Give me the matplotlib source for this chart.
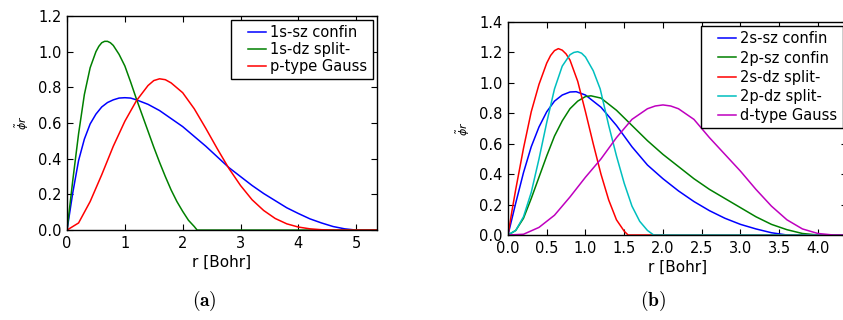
"""Radial basis functions: confined / split / Gaussian orbitals (two panels)."""

import numpy as np
import matplotlib

matplotlib.use("Agg")
import matplotlib.pyplot as plt
from matplotlib.legend_handler import HandlerLine2D
from matplotlib.lines import Line2D

# ---- panel (a): values ----
r_a_blue = [0, 0.1, 0.2, 0.3, 0.4, 0.5, 0.6, 0.7, 0.8, 0.9, 1.0, 1.1, 1.2, 1.4, 1.6,
            1.8, 2.0, 2.2, 2.4, 2.6, 2.8, 3.0, 3.2, 3.4, 3.6, 3.8, 4.0, 4.2, 4.4,
            4.6, 4.8, 5.0, 5.36]
phi_1s_sz = [0, 0.21, 0.39, 0.51, 0.595, 0.65, 0.69, 0.715, 0.73, 0.74, 0.742, 0.74,
             0.73, 0.705, 0.67, 0.625, 0.58, 0.525, 0.47, 0.41, 0.35, 0.30, 0.25,
             0.205, 0.165, 0.125, 0.093, 0.063, 0.04, 0.02, 0.007, 0.0, 0.0]

r_a_green = [0, 0.05, 0.1, 0.2, 0.3, 0.4, 0.5, 0.55, 0.6, 0.65, 0.7, 0.75, 0.8, 0.9,
             1.0, 1.1, 1.2, 1.3, 1.4, 1.5, 1.6, 1.7, 1.8, 1.9, 2.0, 2.1, 2.2, 2.25,
             5.36]
phi_1s_dz = [0, 0.14, 0.28, 0.54, 0.76, 0.91, 1.0, 1.03, 1.05, 1.058, 1.058, 1.05,
             1.035, 0.985, 0.92, 0.83, 0.735, 0.645, 0.555, 0.465, 0.38, 0.3, 0.225,
             0.16, 0.105, 0.055, 0.02, 0.0, 0.0]

r_a_red = [0, 0.2, 0.4, 0.6, 0.8, 1.0, 1.2, 1.4, 1.5, 1.6, 1.7, 1.8, 2.0, 2.2, 2.4,
           2.6, 2.8, 3.0, 3.2, 3.4, 3.6, 3.8, 4.0, 4.2, 4.4, 4.6, 5.36]
phi_p_gauss = [0, 0.04, 0.16, 0.31, 0.47, 0.61, 0.725, 0.81, 0.838, 0.848, 0.843,
               0.825, 0.77, 0.68, 0.57, 0.455, 0.345, 0.25, 0.17, 0.11, 0.065, 0.035,
               0.017, 0.007, 0.002, 0.0, 0.0]

# ---- panel (b) ----
r_b_blue = [0, 0.1, 0.2, 0.3, 0.4, 0.5, 0.6, 0.7, 0.8, 0.88, 1.0, 1.2, 1.4, 1.6, 1.8,
            2.0, 2.2, 2.4, 2.6, 2.8, 3.0, 3.2, 3.4, 3.6, 4.4]
phi_2s_sz = [0, 0.21, 0.41, 0.58, 0.71, 0.81, 0.88, 0.92, 0.94, 0.942, 0.92, 0.84,
             0.72, 0.58, 0.46, 0.37, 0.29, 0.22, 0.16, 0.11, 0.07, 0.04, 0.015, 0.0, 0.0]

r_b_green = [0, 0.1, 0.2, 0.3, 0.4, 0.5, 0.6, 0.7, 0.8, 0.9, 1.0, 1.07, 1.2, 1.4, 1.6,
             1.8, 2.0, 2.2, 2.4, 2.6, 2.8, 3.0, 3.2, 3.4, 3.6, 3.8, 4.0, 4.4]
phi_2p_sz = [0, 0.03, 0.11, 0.24, 0.38, 0.52, 0.65, 0.75, 0.83, 0.88, 0.91, 0.915,
             0.9, 0.82, 0.72, 0.62, 0.53, 0.45, 0.37, 0.3, 0.24, 0.18, 0.12, 0.07,
             0.035, 0.01, 0.0, 0.0]

r_b_red = [0, 0.05, 0.1, 0.2, 0.3, 0.4, 0.5, 0.55, 0.6, 0.65, 0.7, 0.75, 0.8, 0.9,
           1.0, 1.1, 1.2, 1.3, 1.4, 1.5, 1.55, 4.4]
phi_2s_dz = [0, 0.155, 0.3, 0.57, 0.81, 0.99, 1.13, 1.18, 1.212, 1.225, 1.215, 1.19,
             1.15, 1.01, 0.81, 0.6, 0.4, 0.23, 0.1, 0.025, 0.0, 0.0]

r_b_cyan = [0, 0.1, 0.2, 0.3, 0.4, 0.5, 0.6, 0.7, 0.8, 0.85, 0.9, 0.95, 1.0, 1.1,
            1.19, 1.25, 1.3, 1.35, 1.4, 1.5, 1.6, 1.7, 1.8, 1.88, 4.4]
phi_2p_dz = [0, 0.03, 0.12, 0.28, 0.5, 0.74, 0.96, 1.11, 1.185, 1.2, 1.205, 1.195,
             1.17, 1.08, 0.96, 0.83, 0.72, 0.62, 0.52, 0.34, 0.19, 0.09, 0.03, 0.0, 0.0]

r_b_mag = [0, 0.2, 0.4, 0.6, 0.8, 1.0, 1.2, 1.4, 1.6, 1.8, 1.9, 2.0, 2.1, 2.2, 2.4,
           2.6, 2.8, 3.0, 3.2, 3.4, 3.6, 3.8, 4.0, 4.2, 4.4]
phi_d_gauss = [0, 0.005, 0.05, 0.13, 0.25, 0.38, 0.5, 0.64, 0.76, 0.83, 0.848, 0.855,
               0.848, 0.83, 0.76, 0.64, 0.53, 0.42, 0.3, 0.19, 0.1, 0.04, 0.01, 0.0, 0.0]

labels_a = ["1s-sz confin", "1s-dz split-", "p-type Gauss"]
labels_b = ["2s-sz confin", "2p-sz confin", "2s-dz split-", "2p-dz split-", "d-type Gauss"]

BLUE, GREEN, RED = (0, 0, 1), (0, 0.5, 0), (1, 0, 0)
CYAN, MAGENTA = (0, 0.75, 0.75), (0.75, 0, 0.75)


class InsetLine(HandlerLine2D):
    """Legend line that starts a bit inside its handle box (old-mpl look)."""

    def create_artists(self, legend, orig_handle, xdescent, ydescent, width,
                       height, fontsize, trans):
        off = 0.85 * fontsize
        return super().create_artists(legend, orig_handle, xdescent - off, ydescent,
                                      width - off, height, fontsize, trans)


def style_axes(ax):
    ax.tick_params(direction="in", top=True, right=True, length=4, width=0.8,
                   labelsize=10.5, pad=4)
    for sp in ax.spines.values():
        sp.set_linewidth(1.0)
    ax.set_xlabel("r [Bohr]", fontsize=11, labelpad=3)
    ax.set_ylabel(r"$\tilde{\phi}r$", fontsize=8, labelpad=5)


def add_legend(ax, spacing):
    leg = ax.legend(loc="upper right", fontsize=10.5, handlelength=2.05,
                    handletextpad=0.32, labelspacing=spacing, borderpad=0.35,
                    borderaxespad=0.3, fancybox=False, framealpha=1.0,
                    handler_map={Line2D: InsetLine()})
    leg.get_frame().set_edgecolor("black")
    leg.get_frame().set_linewidth(1.0)


def main():
    fig = plt.figure(figsize=(8.43, 3.2), dpi=100)

    ax_a = fig.add_axes([0.0795, 0.281, 0.3677, 0.669])
    for r, phi, c, lab in [
        (r_a_blue, phi_1s_sz, BLUE, labels_a[0]),
        (r_a_green, phi_1s_dz, GREEN, labels_a[1]),
        (r_a_red, phi_p_gauss, RED, labels_a[2]),
    ]:
        ax_a.plot(r, phi, color=c, lw=1.1, label=lab)
    ax_a.set_xlim(0, 5.36)
    ax_a.set_ylim(0, 1.2)
    ax_a.set_xticks(np.arange(0, 6, 1))
    ax_a.set_yticks(np.arange(0, 1.21, 0.2))
    ax_a.set_yticklabels([f"{v:.1f}" for v in np.arange(0, 1.21, 0.2)])
    style_axes(ax_a)
    add_legend(ax_a, 0.12)

    ax_b = fig.add_axes([0.6026, 0.2656, 0.4021, 0.6656])
    for r, phi, c, lab in [
        (r_b_blue, phi_2s_sz, BLUE, labels_b[0]),
        (r_b_green, phi_2p_sz, GREEN, labels_b[1]),
        (r_b_red, phi_2s_dz, RED, labels_b[2]),
        (r_b_cyan, phi_2p_dz, CYAN, labels_b[3]),
        (r_b_mag, phi_d_gauss, MAGENTA, labels_b[4]),
    ]:
        ax_b.plot(r, phi, color=c, lw=1.1, label=lab)
    ax_b.set_xlim(0, 4.375)
    ax_b.set_ylim(0, 1.4)
    ax_b.set_xticks(np.arange(0, 4.01, 0.5))
    ax_b.set_xticklabels([f"{v:.1f}" for v in np.arange(0, 4.01, 0.5)])
    ax_b.set_yticks(np.arange(0, 1.41, 0.2))
    ax_b.set_yticklabels([f"{v:.1f}" for v in np.arange(0, 1.41, 0.2)])
    style_axes(ax_b)
    add_legend(ax_b, 0.28)

    fig.text(0.243, 0.06, r"$\mathbf{(a)}$", ha="center", va="center", fontsize=14,
             math_fontfamily="cm")
    fig.text(0.775, 0.06, r"$\mathbf{(b)}$", ha="center", va="center", fontsize=14,
             math_fontfamily="cm")

    fig.savefig("out.png", dpi=100)
    plt.close(fig)


if __name__ == "__main__":
    main()
